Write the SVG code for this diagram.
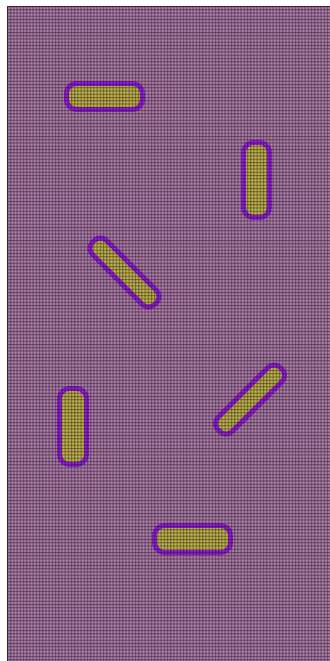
<svg xmlns="http://www.w3.org/2000/svg" width="330" height="661" viewBox="0 0 330 661">
<defs>
<style>
.cap{fill:#b4b42c;stroke:#8410cc;stroke-width:5}
</style>
<pattern id="grid" patternUnits="userSpaceOnUse" x="7" y="6" width="3.2" height="3.25">
<rect x="0" y="0" width="1" height="3.25" fill="#2a2090" fill-opacity="0.5"/>
<rect x="0" y="0" width="3.2" height="1" fill="#4a1020" fill-opacity="0.5"/>
<rect x="1.6" y="1.6" width="1" height="1" fill="#ffe0c8" fill-opacity="0.3"/>
</pattern>
</defs>
<rect x="0" y="0" width="330" height="661" fill="#ffffff"/>
<rect x="7" y="6" width="323" height="655" fill="#a07894"/>
<g id="capsule1"><rect class="cap" x="66.5" y="83.5" width="76" height="26" rx="10"/></g>
<g id="capsule2"><rect class="cap" x="243.5" y="142.5" width="26" height="75" rx="10"/></g>
<g id="capsule3"><rect class="cap" x="-44" y="-10" width="88" height="20" rx="9" transform="translate(124.5 272.5) rotate(45)"/></g>
<g id="capsule4"><rect class="cap" x="-44" y="-10" width="88" height="20" rx="9" transform="translate(250 399.5) rotate(-45)"/></g>
<g id="capsule5"><rect class="cap" x="59.5" y="388.5" width="27" height="76" rx="10"/></g>
<g id="capsule6"><rect class="cap" x="154.5" y="525.5" width="76" height="27" rx="10"/></g>
<rect x="7" y="6" width="323" height="655" fill="url(#grid)"/>
<path d="M7.5 661V6.5H330" fill="none" stroke="#3a2030" stroke-width="1"/>
</svg>
